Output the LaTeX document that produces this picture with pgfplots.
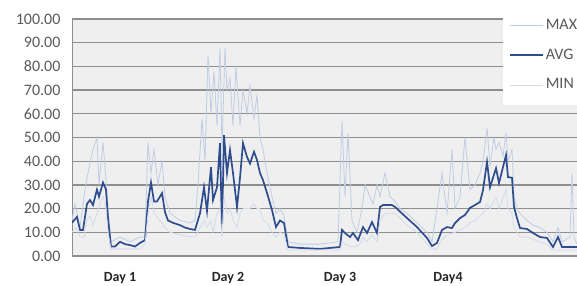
\documentclass[border=0pt]{standalone}
\usepackage{pgfplots}
\pgfplotsset{compat=1.18}
\usepackage{fontspec}
\setmainfont{Carlito}
\definecolor{avgc}{HTML}{2E4D8E}
\definecolor{maxc}{HTML}{BFCDE4}
\definecolor{minc}{HTML}{D2DBEA}
\definecolor{gridc}{HTML}{8E8E8E}
\definecolor{bgc}{HTML}{EFEFEF}
\definecolor{txtc}{HTML}{595959}
\begin{document}
\begin{tikzpicture}
\fontsize{16bp}{18bp}\selectfont
\begin{axis}[
  at={(72bp,30bp)}, anchor=south west,
  scale only axis, width=513bp, height=237bp,
  xmin=72, xmax=585, ymin=0, ymax=100,
  ytick={0,10,...,100},
  xtick={120,228,340,448},
  xticklabels={Day 1,Day 2,Day 3,Day4},
  xticklabel style={font=\bfseries\fontsize{14bp}{16bp}\selectfont, text=black!85, yshift=-11bp},
  yticklabel style={font=\fontsize{16bp}{18bp}\selectfont, text=txtc, xshift=-6bp},
  /pgf/number format/.cd, fixed, fixed zerofill, precision=2, assume math mode=true,
  /pgfplots/.cd,
  major tick length=0pt,
  ymajorgrids, grid style={gridc, line width=1.3bp},
  axis x line*=bottom, axis y line*=left,
  axis line style={gridc, line width=1bp, -},
  axis background/.style={fill=bgc},
  clip=true,
  legend style={at={(0.840,1.059)}, anchor=north west, draw=none, fill=white,
    font=\fontsize{16bp}{18bp}\selectfont, text=txtc, row sep=13bp,
    inner xsep=6bp, inner ysep=12bp, cells={anchor=west}},
  legend image code/.code={\draw[#1] (0bp,0bp) -- (33bp,0bp);},
]
\addplot[maxc, line width=0.8bp] coordinates {
(72,15)(75,22)(80,12)(85,28)(88,35)(93,45)(97,50)(99,30)(103,48)(106,32)(108,20)(111,6)(120,8)(130,6)(140,8)(145,8)(148,48)(151,35)(154,45)(158,30)(162,40)(165,25)(170,18)(180,15)(190,14)(195,15)(198,30)(202,58)(205,40)(208,85)(211,60)(214,78)(217,55)(220,88)(222,45)(225,88)(227,70)(230,75)(233,55)(236,80)(240,55)(243,70)(247,60)(250,72)(254,58)(257,68)(260,50)(263,45)(267,35)(272,25)(276,18)(280,20)(284,17)(288,6)(300,5)(320,5)(338,6)(342,57)(345,25)(348,52)(352,15)(357,10)(362,20)(365,30)(370,25)(373,22)(377,30)(380,25)(385,35)(390,25)(395,23)(400,20)(407,18)(417,14)(427,10)(432,6)(437,20)(442,35)(447,18)(452,45)(455,20)(460,25)(465,50)(470,28)(475,30)(480,35)(483,40)(487,54)(490,38)(494,50)(496,45)(499,48)(503,42)(506,52)(508,40)(512,45)(514,25)(517,20)(520,18)(527,15)(533,13)(540,12)(547,10)(553,6)(558,12)(562,6)(570,8)(572,35)(574,8)(577,5)
};
\addlegendentry{MAX}
\addplot[avgc, line width=1.7bp] coordinates {
(72,14)(77,16.5)(80,11)(83,11)(87,22)(90,23.6)(93,21.5)(97,28)(99,25)(103,31)(106,28)(108,16)(111,4)(115,4)(120,6)(125,5)(130,4.6)(135,4)(140,5.5)(145,6.7)(148,23)(151,31)(154,23)(157,23)(162,26.5)(165,18.5)(168,15)(173,14)(180,13)(185,12)(190,11.4)(195,11)(200,18)(204,29)(207,19)(211,37.5)(213,23.6)(217,29)(220,47.6)(222,11)(224,51)(227,35)(230,44.7)(233,35)(237,20.7)(240,33)(243,47.6)(247,41.8)(250,39)(254,44)(257,40.5)(260,35)(263,32)(267,26.6)(272,19.4)(276,12.2)(280,15)(284,13.9)(288,3.8)(300,3.4)(320,3)(340,3.8)(342,11)(345,9.7)(350,8)(353,9.7)(358,6.7)(363,12.2)(367,9.7)(372,14.3)(377,9.7)(380,20.7)(383,21.5)(392,21.5)(395,20.7)(407,16)(417,12.2)(427,7.6)(432,4.2)(437,5.5)(442,11)(447,12.2)(452,11.8)(455,13.9)(460,16)(465,17.3)(470,20.3)(475,21.5)(480,22.8)(483,27.8)(487,39.7)(490,29)(496,37)(499,30.8)(506,42.6)(508,33.3)(512,33)(514,20.7)(517,16)(520,11.8)(527,11.4)(533,9.7)(540,8)(547,7.6)(553,3.8)(558,8)(562,3.8)(577,3.8)
};
\addlegendentry{AVG}
\addplot[minc, line width=0.8bp] coordinates {
(72,10)(76,12)(80,8)(84,8)(87,15)(90,17)(93,13)(97,18)(100,22)(103,25)(106,20)(108,10)(111,3)(125,3)(140,3)(145,5)(148,18)(151,25)(154,18)(160,15)(165,12)(170,10)(180,9)(190,8)(195,8)(200,12)(204,15)(207,12)(211,15)(213,10)(217,18)(220,20)(222,8)(224,25)(227,18)(230,20)(233,15)(237,12)(240,18)(243,20)(247,20)(250,20)(254,22)(257,20)(260,20)(263,15)(267,14)(272,10)(276,8)(280,10)(284,9)(288,2.5)(340,2.5)(342,6)(345,5)(350,4)(355,4)(360,5)(363,8)(367,6)(372,9)(377,6)(380,15)(385,18)(395,18)(407,13)(417,10)(427,5)(432,3)(437,3)(442,7)(447,9)(455,10)(460,11)(465,12)(470,14)(475,15)(480,17)(483,18)(487,22)(490,20)(496,25)(499,20)(506,28)(508,20)(512,18)(514,12)(517,10)(520,8)(527,8)(533,7)(540,6)(547,5)(553,2.5)(577,2.5)
};
\addlegendentry{MIN}
\end{axis}
\pgfresetboundingbox
\path[use as bounding box] (0bp,0bp) rectangle (577bp,286bp);
\end{tikzpicture}
\end{document}
